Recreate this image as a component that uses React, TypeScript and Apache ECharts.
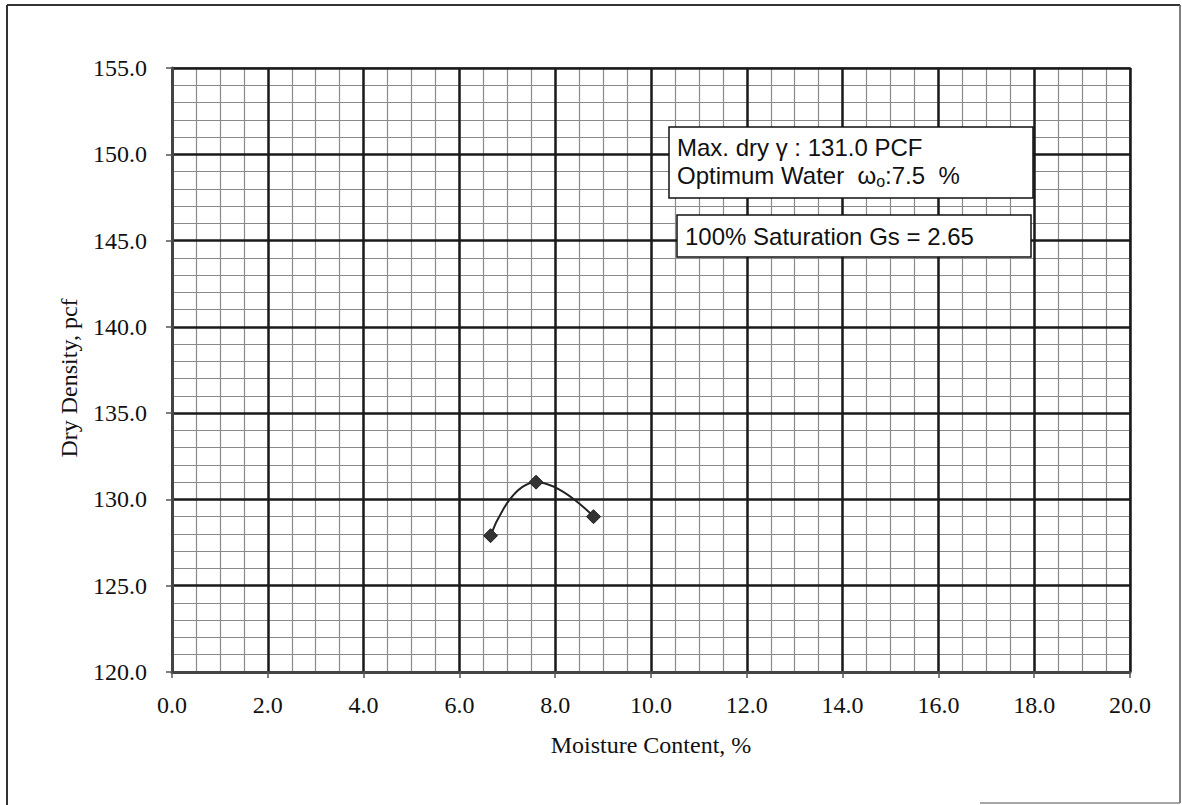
import React, { useEffect, useRef } from "react";
import * as echarts from "echarts";

const moisture = [6.65, 7.6, 8.8];
const dryDensity = [127.9, 131.0, 129.0];

const xMin = 0;
const xMax = 20;
const xStep = 2;
const xMinorStep = 0.5;
const yMin = 120;
const yMax = 155;
const yStep = 5;
const yMinorStep = 1;

const xTitle = "Moisture Content, %";
const yTitle = "Dry Density, pcf";
const infoLine1 = "Max. dry γ : 131.0 PCF";
const infoLine2 = "Optimum Water  ω{s|o}:7.5  %";
const satLabel = "100% Saturation Gs = 2.65";

export default function App() {
  const ref = useRef<HTMLDivElement>(null);
  useEffect(() => {
    document.body.style.margin = "0";
    const chart = echarts.init(ref.current!, null, { renderer: "svg" });
    const serif = "'Liberation Serif', 'Times New Roman', serif";
    const sans = "'Liberation Sans', Arial, sans-serif";
    const fmt = (v: number) => v.toFixed(1);
    const Z = 100;
    chart.setOption({
      animation: false,
      backgroundColor: "#ffffff",
      grid: {
        left: 172,
        right: 52,
        top: 68,
        bottom: 133,
        show: true,
        borderColor: "#777",
        borderWidth: 2,
      },
      xAxis: [
        {
          type: "value",
          min: xMin,
          max: xMax,
          interval: xStep,
          z: 2,
          name: xTitle,
          nameLocation: "middle",
          nameGap: 61,
          nameTextStyle: { fontFamily: serif, fontSize: 24, color: "#111" },
          axisLine: { show: true, onZero: false, lineStyle: { color: "#444", width: 3 } },
          axisTick: { show: true, length: 6, lineStyle: { color: "#555", width: 1.5 } },
          axisLabel: { margin: 21, fontFamily: serif, fontSize: 24, color: "#111", formatter: fmt },
          splitLine: { show: true, lineStyle: { color: "#1a1a1a", width: 2.5 } },
        },
        {
          type: "value",
          min: xMin,
          max: xMax,
          interval: xMinorStep,
          position: "bottom",
          z: 1,
          axisLine: { show: false },
          axisTick: { show: false },
          axisLabel: { show: false },
          splitLine: { show: true, lineStyle: { color: "#8a8a8a", width: 1.2 } },
        },
      ],
      yAxis: [
        {
          type: "value",
          min: yMin,
          max: yMax,
          interval: yStep,
          z: 2,
          name: yTitle,
          nameLocation: "middle",
          nameGap: 91,
          nameTextStyle: { fontFamily: serif, fontSize: 24, color: "#111", padding: [0, 16, 0, 0] },
          axisLine: { show: true, onZero: false, lineStyle: { color: "#444", width: 3 } },
          axisTick: { show: true, length: 6, lineStyle: { color: "#555", width: 1.5 } },
          axisLabel: { margin: 25, fontFamily: serif, fontSize: 24, color: "#111", formatter: fmt },
          splitLine: { show: true, lineStyle: { color: "#1a1a1a", width: 2.5 } },
        },
        {
          type: "value",
          min: yMin,
          max: yMax,
          interval: yMinorStep,
          position: "left",
          z: 1,
          axisLine: { show: false },
          axisTick: { show: false },
          axisLabel: { show: false },
          splitLine: { show: true, lineStyle: { color: "#8a8a8a", width: 1.2 } },
        },
      ],
      series: [
        {
          type: "line",
          xAxisIndex: 0,
          yAxisIndex: 0,
          data: moisture.map((x, i) => [x, dryDensity[i]]),
          smooth: 0.5,
          symbol: "diamond",
          symbolSize: 14,
          lineStyle: { color: "#222", width: 2 },
          itemStyle: { color: "#333", borderColor: "#222", borderWidth: 1 },
          z: 10,
        },
      ],
      graphic: [
        { type: "line", z: Z, shape: { x1: 7, y1: 5, x2: 7, y2: 805 }, style: { stroke: "#333", lineWidth: 2 } },
        { type: "line", z: Z, shape: { x1: 7, y1: 5, x2: 1180, y2: 5 }, style: { stroke: "#333", lineWidth: 2 } },
        { type: "line", z: Z, shape: { x1: 1180, y1: 5, x2: 1180, y2: 803 }, style: { stroke: "#555", lineWidth: 1.5 } },
        { type: "line", z: Z, shape: { x1: 980, y1: 803, x2: 1180, y2: 803 }, style: { stroke: "#888", lineWidth: 1.5 } },
        {
          type: "rect",
          z: Z,
          shape: { x: 669, y: 127, width: 364, height: 71 },
          style: { fill: "#fff", stroke: "#111", lineWidth: 1.5 },
        },
        {
          type: "text",
          z: Z + 1,
          x: 677,
          y: 147,
          style: { text: infoLine1, fontFamily: sans, fontSize: 24, fill: "#111", align: "left", verticalAlign: "middle" },
        },
        {
          type: "text",
          z: Z + 1,
          x: 677,
          y: 175,
          style: {
            text: infoLine2,
            fontFamily: sans,
            fontSize: 24,
            lineHeight: 28,
            fill: "#111",
            align: "left",
            verticalAlign: "middle",
            rich: {
              s: { fontFamily: sans, fontSize: 16, lineHeight: 16, verticalAlign: "bottom", fill: "#111" },
            },
          },
        },
        {
          type: "rect",
          z: Z,
          shape: { x: 677, y: 215, width: 354, height: 42 },
          style: { fill: "#fff", stroke: "#111", lineWidth: 1.5 },
        },
        {
          type: "text",
          z: Z + 1,
          x: 685,
          y: 236,
          style: { text: satLabel, fontFamily: sans, fontSize: 24, fill: "#111", align: "left", verticalAlign: "middle" },
        },
      ],
    });
    return () => chart.dispose();
  }, []);
  return <div ref={ref} style={{ width: 1182, height: 805, overflow: "hidden" }} />;
}
